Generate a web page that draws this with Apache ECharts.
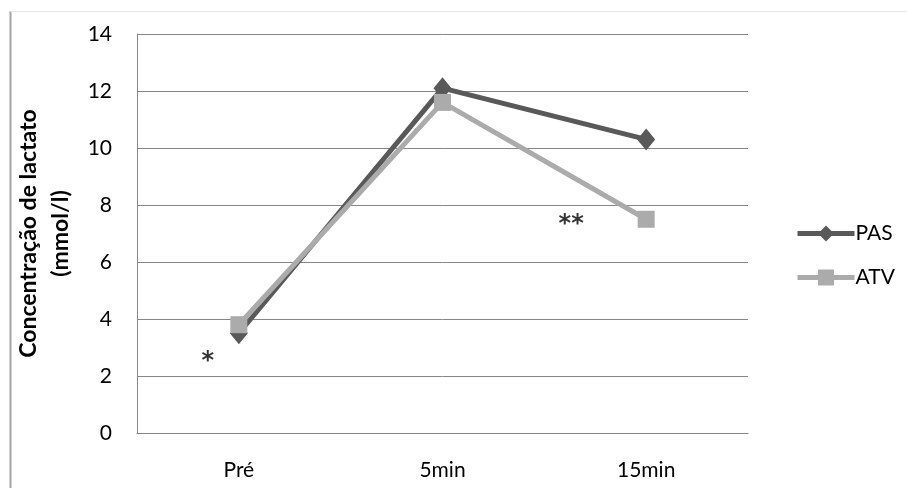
<!DOCTYPE html>
<html>
<head>
<meta charset="utf-8">
<script src="https://cdn.jsdelivr.net/npm/echarts@6/dist/echarts.min.js"></script>
<style>html,body{margin:0;padding:0;background:#fff;}#c{width:907px;height:488px;}</style>
</head>
<body>
<div id="c"></div>
<script>
const categories = ['Pré', '5min', '15min'];
const pasValues = [3.5, 12.1, 10.3];
const atvValues = [3.8, 11.6, 7.5];
const yTicks = [0, 2, 4, 6, 8, 10, 12, 14];
const annotationCats = ['Pré', '15min'];
const annotationValues = [2.5, 7.3];
const annotationTexts = ['*', '**'];
const annotationShifts = [-31, -75];

const FONT = 'Lato';
const chart = echarts.init(document.getElementById('c'));
chart.setOption({
  backgroundColor: '#ffffff',
  animation: false,
  textStyle: { fontFamily: FONT },
  graphic: [
    { type: 'line', shape: { x1: 10.5, y1: 11, x2: 10.5, y2: 488 }, style: { stroke: '#a6a6a6', lineWidth: 2 } },
    { type: 'line', shape: { x1: 10, y1: 11.5, x2: 907, y2: 11.5 }, style: { stroke: '#e3e3e3', lineWidth: 1 } }
  ],
  grid: { left: 137, right: 159, top: 34, bottom: 55, containLabel: false },
  legend: {
    orient: 'vertical',
    left: 790,
    top: 218,
    itemGap: 23,
    itemWidth: 57,
    itemHeight: 20,
    lineStyle: { width: 5 },
    textStyle: { fontFamily: FONT, fontSize: 21, color: '#000', padding: [0, 0, 0, -4], lineHeight: 20 },
    data: ['PAS', 'ATV']
  },
  xAxis: {
    type: 'category',
    data: categories,
    boundaryGap: true,
    axisLine: { lineStyle: { color: '#868686', width: 1 } },
    axisTick: { show: false },
    axisLabel: { fontFamily: FONT, fontSize: 21, color: '#000', margin: 27 }
  },
  yAxis: {
    type: 'value',
    min: yTicks[0],
    max: yTicks[yTicks.length - 1],
    interval: 2,
    name: 'Concentração de lactato\n(mmol/l)',
    nameLocation: 'middle',
    nameGap: 56,
    nameTextStyle: { fontFamily: FONT, fontSize: 23, fontWeight: 'bold', color: '#000', lineHeight: 32 },
    axisLine: { show: true, lineStyle: { color: '#868686', width: 1 } },
    axisTick: { show: false },
    splitLine: { lineStyle: { color: '#868686', width: 1 } },
    axisLabel: { fontFamily: FONT, fontSize: 21, color: '#000', margin: 25 }
  },
  series: [
    {
      name: 'PAS', type: 'line', data: pasValues,
      symbol: 'diamond', symbolSize: [18, 22],
      lineStyle: { color: '#595959', width: 5 },
      itemStyle: { color: '#595959' },
      z: 3
    },
    {
      name: 'ATV', type: 'line', data: atvValues,
      symbol: 'rect', symbolSize: 17,
      lineStyle: { color: '#ababab', width: 5 },
      itemStyle: { color: '#ababab' },
      z: 4
    },
    {
      name: 'notes', type: 'scatter',
      data: annotationCats.map((c, i) => ({
        value: [c, annotationValues[i]],
        label: { formatter: annotationTexts[i], offset: [annotationShifts[i], 0] }
      })),
      symbolSize: 0,
      silent: true,
      label: {
        show: true, position: 'inside',
        fontFamily: 'DejaVu Sans', fontSize: 24, fontWeight: 'bold', color: '#000'
      }
    }
  ]
});
</script>
</body>
</html>
